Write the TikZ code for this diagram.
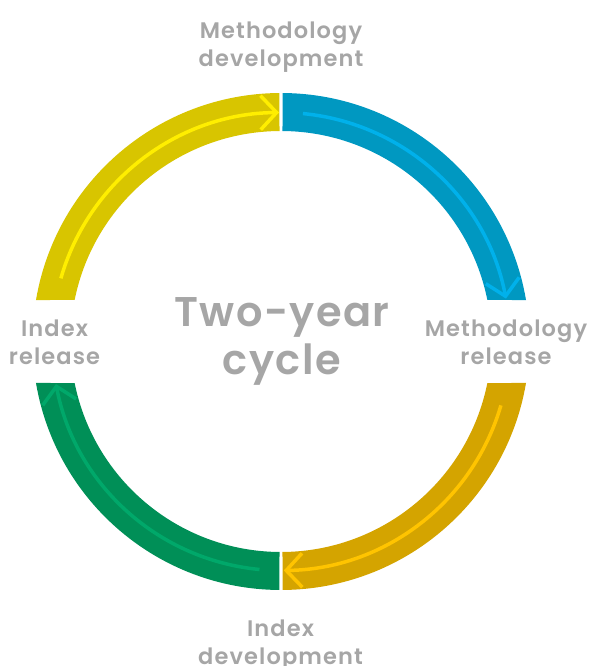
\documentclass[tikz,border=0pt]{standalone}
\usepackage{fontspec}
\setmainfont{Poppins}[BoldFont={Poppins SemiBold}]
\usetikzlibrary{arrows.meta, positioning}

\definecolor{ringyellow}{HTML}{D8C500}
\definecolor{flowyellow}{HTML}{FFEE00}
\definecolor{ringblue}{HTML}{0098C1}
\definecolor{flowblue}{HTML}{00B1EB}
\definecolor{ringmustard}{HTML}{D4A400}
\definecolor{flowmustard}{HTML}{FFC400}
\definecolor{ringgreen}{HTML}{008F57}
\definecolor{flowgreen}{HTML}{00A86A}
\definecolor{labelgray}{HTML}{A6A6A6}

\newcommand{\ringout}{248.5pt}
\newcommand{\ringin}{210.5pt}
\newcommand{\ringmid}{229pt}

\begin{document}
\begin{tikzpicture}[
        % Estilos para las etiquetas
        phase/.style={
                font=\bfseries\fontsize{22.5}{27.5}\selectfont\addfontfeatures{LetterSpace=5},
                text=labelgray,
                align=center,
                inner sep=0pt
            },
        cycletitle/.style={
                font=\bfseries\fontsize{41.5}{48}\selectfont\addfontfeatures{LetterSpace=3.5},
                text=labelgray,
                align=center,
                inner sep=0pt
            },
        % Flechas dentro del anillo
        flow/.style={
                line width=3.5pt,
                -{Straight Barb[length=16pt,width=34pt]}
            }
    ]

    \useasboundingbox (-281pt,-324.5pt) rectangle (311pt,341.5pt);
    \coordinate (o) at (0,0);

    % Anillo
    \fill[ringyellow] (90.4:\ringout) arc[start angle=90.4, end angle=170.4, radius=\ringout]
        -- (168.6:\ringin) arc[start angle=168.6, end angle=90.4, radius=\ringin] -- cycle;
    \fill[ringblue] (89.6:\ringout) arc[start angle=89.6, end angle=9.6, radius=\ringout]
        -- (11.4:\ringin) arc[start angle=11.4, end angle=89.6, radius=\ringin] -- cycle;
    \fill[ringmustard] (-9.6:\ringout) arc[start angle=-9.6, end angle=-89.6, radius=\ringout]
        -- (-89.6:\ringin) arc[start angle=-89.6, end angle=-11.4, radius=\ringin] -- cycle;
    \fill[ringgreen] (269.6:\ringout) arc[start angle=269.6, end angle=189.6, radius=\ringout]
        -- (191.4:\ringin) arc[start angle=191.4, end angle=269.6, radius=\ringin] -- cycle;

    % Flechas
    \draw[flow, flowyellow] (164:\ringmid) arc[start angle=164, end angle=90.5, radius=\ringmid];
    \draw[flow, flowblue] (84.5:\ringmid) arc[start angle=84.5, end angle=10.8, radius=\ringmid];
    \draw[flow, flowmustard] (-16.2:\ringmid) arc[start angle=-16.2, end angle=-89.3, radius=\ringmid];
    \draw[flow, flowgreen] (264.6:\ringmid) arc[start angle=264.6, end angle=190.7, radius=\ringmid];

    % Etiquetas
    \node[cycletitle] (cycle) at (1pt,0pt) {Two-year\\cycle};
    \node[phase] (methdev) at (0pt,294.5pt) {Methodology\\development};
    \node[phase] (methrel) at (225pt,-1pt) {Methodology\\release};
    \node[phase] (idxdev) at (-0.5pt,-303.5pt) {Index\\development};
    \node[phase] (idxrel) at (-226.5pt,-1pt) {Index\\release};

\end{tikzpicture}
\end{document}
